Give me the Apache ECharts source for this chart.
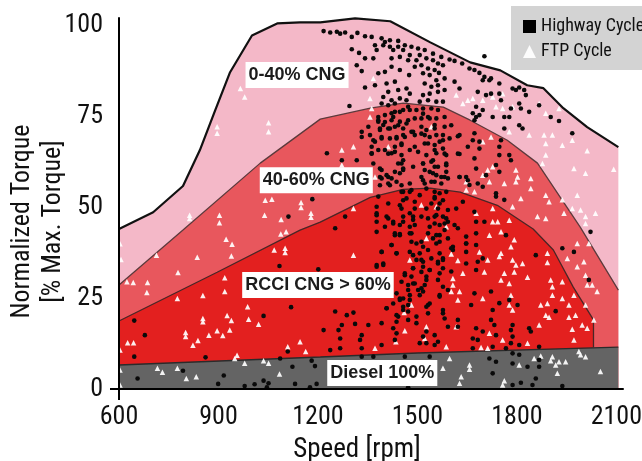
<!DOCTYPE html>
<html><head><meta charset="utf-8">
<style>html,body{margin:0;padding:0;background:#fff}#c{width:642px;height:461px}</style>
<script src="https://cdn.jsdelivr.net/npm/echarts@6/dist/echarts.min.js"></script>
</head><body><div id="c"></div>
<script>
const xTicks=[600,900,1200,1500,1800,2100];
const yTicks=[0,25,50,75,100];
const limit040=[[600,44],[703,48.6],[793,55.8],[844,65.7],[890,76.6],[935,87.1],[1001,97.2],[1077,100.5],[1146,100.8],[1207,100.8],[1312,101.9],[1418,101.1],[1539,95.3],[1659,89.8],[1750,87.6],[1831,83.5],[1880,82.7],[1940,77.2],[2012,72],[2106,66.5]];
const limit4060=[[600,28.6],[793,43.7],[1026,62.1],[1207,74.2],[1358,77.2],[1457,78.6],[1578,77.5],[1659,73.9],[1771,68.4],[1862,62.1],[1931,52.7],[1991,44.5],[2106,27.2]];
const limitRcci=[[600,18.7],[896,32.1],[1146,43.7],[1207,45.9],[1358,52.7],[1457,54.9],[1539,55.2],[1629,54.1],[1741,50.5],[1849,44],[1910,38.2],[1970,28],[2031,19],[2031,11.5]];
const limitDiesel=[[600,6.6],[1207,8.8],[1500,9.9],[2106,11.5]];
const regionLabels=[[1137,86.3,'0-40% CNG'],[1195,57.4,'40-60% CNG'],[1200,28.6,'RCCI CNG > 60%'],[1394,4.4,'Diesel 100%']];
const highway=[[1217,98.4],[1237,98],[1257,98.2],[1267,97.7],[1282,98],[1302,96.8],[1319,97.9],[1342,97],[1362,96.8],[1392,96.4],[1402,95.4],[1417,95.9],[1442,95.7],[1462,94.5],[1482,94.1],[1502,93.6],[1522,93.2],[1547,92.2],[1572,91.3],[1597,90.6],[1612,90.2],[1635,89.5],[1657,88.1],[1672,87.7],[1687,86.9],[1702,85.8],[1722,85.4],[1747,84],[1787,82.6],[1807,82.9],[1822,82.2],
[1302,93.4],[1324,92.4],[1342,90.9],[1367,90.9],[1377,93.2],[1372,94.5],[1397,94.5],[1417,94.1],[1427,93.2],[1442,94.1],[1457,93.2],[1477,91.8],[1497,90.4],[1507,91.8],[1527,90.9],[1547,90.4],[1562,89.5],[1577,89],[1422,90.9],[1447,91.3],[1472,90.4],[1492,88.6],[1512,89],[1532,88.1],[1552,87.7],[1565,86.9],[1317,89],[1332,87.4],[1342,82.9],[1382,86.8],[1402,87.2],[1422,88.6],[1447,87.7],[1475,86.3],[1517,86.8],[1537,86.3],[1557,84.9],[1582,85.4],[1612,84.5],[1627,82.6],[1582,82.2],[1372,83.5],[1407,84],[1432,84.5],[1467,82.6],[1412,81.7],[1442,82.2],[1477,81.2],[1522,84],[1542,83.1],[1562,83.5],[1517,80.8],[1537,81.2],[1562,81.7],[1397,80.3],[1422,79.4],[1447,79.9],[1467,79.4],[1507,79],[1532,79.4],[1557,79],[1577,79],[1392,78.5],[1412,78],[1432,78.5],[1295,77.8],
[1697,84.9],[1717,84.9],[1682,81.7],[1707,80.8],[1722,81.2],[1747,81.2],[1752,79.4],[1797,82.2],[1827,80.8],[1807,78.5],[1782,77.1],[1812,77.1],[1677,77.6],[1697,76.7],[1667,75.8],[1687,75.3],[1727,74.8],[1762,74.8],[1777,74.8],[1837,76.2],[1867,78],[1902,74.8],[1927,73.7],[1967,70.3],[1807,72.5],[1762,71.6],[1817,71.6],[1677,74.8],[1672,73.9],[1702,91.5],
[1382,74.8],[1402,75.3],[1422,75.8],[1447,76.2],[1472,77.6],[1497,76.7],[1517,77.1],[1542,77.1],[1562,76.7],[1382,73.5],[1397,72.6],[1422,73.9],[1447,73.5],[1472,73.9],[1512,74.4],[1532,74.8],[1557,74.4],[1582,74.8],[1332,70.7],[1352,72.1],[1387,71.6],[1412,71.6],[1432,72.1],[1457,71.6],[1482,70.7],[1512,72.1],[1527,71.2],[1552,72.6],[1582,72.1],[1332,69.3],[1367,68.4],[1392,69.3],[1417,68.9],[1437,68.9],[1462,69.3],[1492,69.8],[1522,69.8],[1557,69.8],[1577,68.4],[1622,69.5],[1672,70.3],[1362,66.6],[1402,65.7],[1432,66.6],[1452,67.1],[1492,66.6],[1522,67.5],[1552,67.1],[1577,66.1],[1667,68.4],[1687,68],[1652,66.6],[1362,64.8],[1422,64.8],[1452,64.3],[1527,64.3],[1557,64.8],[1587,64.3],[1627,64.6],[1687,66.1],[1752,68.4],[1747,66.6],[1227,64.8],[1272,62.9],[1317,62.9],[1367,62],[1392,60.2],[1452,62],[1517,62],[1547,62.9],[1587,62],[1672,63.4],[1677,60.6],[1777,64.3],[1747,64.3],[1737,61.6],[1387,58.3],[1412,58.3],[1457,60.6],[1522,60.2],[1552,61.1],[1587,59.7],[1627,58.3],[1647,58.3],[1412,56.5],[1447,59.3],[1547,59.3],[1572,58.3],[1517,57.4],[1552,57],[1707,58.8],[1747,59.7],[1782,62.9],[1682,56.5],[1737,53.8],[1737,52.9],[1762,52],[1657,56.1],[1697,55.6],
[1382,52.9],[1457,54.2],[1482,54.7],[1527,55.1],[1552,54.2],[1587,54.2],[1637,51.5],[1377,50.1],[1412,51],[1457,51.9],[1492,51.5],[1552,52.4],[1577,51.9],[1617,49.6],[1377,47.8],[1407,47.4],[1452,49.6],[1492,49.6],[1527,49.6],[1562,49.6],[1592,49.2],[1672,48.7],[1427,46],[1457,47.4],[1487,47.4],[1552,47.4],[1587,46.9],[1677,46],[1702,46],[1282,47.4],[1252,44.2],[1447,45.1],[1477,44.6],[1552,45.5],[1582,45.5],[1622,44.2],
[1432,42.3],[1447,42.6],[1482,42.8],[1532,42.8],[1567,42.3],[1592,41.4],[1647,41.9],[1677,42.8],[1767,42.3],[1422,39.6],[1482,40.5],[1512,40.5],[1557,40],[1607,39.1],[1647,40],[1677,39.6],[1392,37.7],[1437,37.3],[1507,37.3],[1532,38.2],[1577,35.9],[1607,38.2],[1647,37.7],[1682,35],[1697,35.9],[1857,36.8],[1937,38.7],[1972,37.7],[1397,34.5],[1377,34.1],[1497,35.5],[1517,35],[1562,34.5],[1647,34.5],[1677,32.7],[1577,33.2],[1487,33.2],[1512,32.2],[1537,32.7],[1462,31.3],[1567,31.8],[1452,29.5],[1487,29],[1527,30],[1562,30],[1672,26.3],[1512,27.7],[1577,28.1],[1592,27.2],[1472,27.2],[1507,25.8],[1447,24.9],[1567,25.8],[1662,23.1],[1722,26.8],[1747,23.6],[1777,24.5],[1802,23.1],[1407,22.2],[1457,22.6],[1532,23.1],[1477,24.5],[1457,21.7],[1252,21.3],[1307,21],[1287,20.3],[1577,20.8],[1442,19.9],[1472,19],[1497,18.1],[1582,19.4],[1622,19],[1727,21.7],[1722,19],[1437,18.5],[1272,17.6],[1312,17.9],[1352,17.6],[1392,18.1],[1622,17.1],[1732,17.6],[1677,16.7],[1787,17.6],[1837,16.7],[1217,16.2],[1262,16.2],[1427,16.7],[1527,15.8],[1592,17.1],[1697,15.8],[1782,16.2],[1842,15.8],[1332,14.8],[1437,15.3],[1552,14.8],[1737,14.8],[1787,14.4],[1267,13.9],[1327,13.5],[1432,13.5],[1517,14.4],[1667,13.9],[1682,13.5],[1782,12.6],[1527,12.6],[1562,13],[1237,10.7],[1267,11.2],[1332,11.2],[1392,12.1],[1552,12.1],[1507,12.6],[1667,11.2],[1727,11.6],[1767,11.2],[1867,11.6],[1807,12.1],[1717,8.4],[1737,7.5],[1787,9.8],[1807,9.4],[1787,7],[1832,6.1],[1867,8],[1727,4.3],[1857,2.9],[1812,1.7],[1787,1.1],[1937,0.8],[1867,6.1],[1847,1.1],[1472,0.5],[1462,8.9],[1537,8.9],[1332,8.9],[1367,8.9],[1917,21.4],[2017,30],[2022,43.2],
[646,18.8],[678,14.8],[646,8.9],[861,8.7],[1036,20.1],[1119,22.5],[1084,33.8],[1201,32.9],[1109,10.3],[1086,8.4],[793,5],[656,2.9],[899,1.4],[916,3.7],[979,0.8],[1009,1.3],[1036,2.3],[1051,1.6],[1046,0.5],[1123,6.1],[1131,1.4],[1181,7.8],[1191,6.3],[1176,0.5],[1196,1.4],[1111,47.4],[1183,52.2]];
const highwayDense=[[1382,73.9],[1402,73.4],[1427,74.8],[1432,76.2],[1457,76.7],[1477,76.7],[1387,71.2],[1417,71.6],[1442,72.5],[1467,73],[1492,74.4],[1517,75.7],[1537,74.4],[1552,71.6],[1577,69.8],[1597,68.9],[1357,69.8],[1372,68],[1392,68.9],[1437,69.3],[1457,69.8],[1487,70.7],[1512,70.2],[1537,69.3],[1567,68],[1382,65.7],[1362,64.7],[1412,64.7],[1432,65.2],[1452,67.5],[1477,65.7],[1502,65.2],[1532,67.5],[1552,65.7],[1582,64.7],[1442,62],[1457,62.9],[1487,61.1],[1517,62],[1542,62.5],[1562,61.1],[1587,61.5],[1387,60.6],[1407,58.8],[1432,59.7],[1457,60.2],[1512,58.3],[1537,59.7],[1557,58.8],[1582,58.3],[1392,57.9],[1422,57.9],[1437,57],[1452,56],[1477,56.5],[1542,57],[1572,56.5],[1592,57.9],[1627,58.3],[1652,57.4],[1622,64.7],[1602,72.5],[1627,69.8],[1387,56],[1417,56],[1522,56.5],[1552,52.8],[1567,53.8],[1507,53.3],[1477,54.2],[1452,54.2],[1542,51],[1567,51],[1447,50.5],[1467,52.4],
[1377,48.3],[1412,46.9],[1427,45.5],[1377,46],[1402,44.6],[1377,43.2],[1432,42.8],[1447,42.3],[1457,46],[1477,48.3],[1487,46.5],[1492,45.1],[1512,47.4],[1532,46.9],[1557,47.8],[1577,47.4],[1592,46],[1612,45.1],[1537,44.6],[1567,45.1],[1582,43.7],[1477,42.8],[1497,40],[1517,39.1],[1557,42.3],[1567,40.5],[1547,41.4],[1422,39.6],[1392,37.7],[1437,37.3],[1477,37.7],[1487,36.8],[1512,35.5],[1542,35.9],[1567,37.3],[1577,35.5],[1602,38.7],[1647,40],[1397,34.1],[1377,33.6],[1487,33.2],[1517,33.6],[1537,32.7],[1562,35],[1602,32.3],[1462,31.8],[1482,30.9],[1527,30.9],[1522,28.6],[1517,26.8],[1492,29],[1472,28.6],[1437,26.3],[1457,24.9],[1477,25.8],[1502,27.2],[1447,24.5],[1537,23.5],[1527,22.6],[1407,22.2],[1427,23.5],[1472,23.1],[1472,21.3],[1497,19.9],[1532,20.8],[1577,21.7],[1567,25.4],[1437,20.3]];
const ftp=[[966,82.6],[979,80.3],[896,72.1],[896,70.3],[1051,73.2],[1051,70.7],[813,47.8],[813,46.9],[903,47.8],[903,45.7],[1041,51.9],[1061,52.2],[1039,47.8],[1089,46.6],[1149,51.3],[1149,49.9],[1179,48.3],[1179,47.2],
[603,39.9],[606,35.6],[713,36.8],[836,36.2],[923,41.2],[941,39.8],[939,36.6],[778,32],[624,29.5],[643,29.3],[686,29.3],[684,26.5],[776,24.9],[853,25.7],[919,30.6],[919,26.8],[1088,42.6],[1104,43.2],[1068,38.2],[1101,38.7],[1101,37.5],[988,22.6],[991,19.2],[926,20.2],[939,18.8],[1021,17.8],[934,16.2],[896,16],[913,14.7],[871,14.8],[801,15.5],[801,14.4],[838,13.3],[823,12],[853,19.4],[853,18.5],[626,12.7],[644,12.7],[603,10.7],[956,9.3],[949,8.4],[1109,11.6],[1146,13],[1163,10.3],[603,5.2],[716,5.7],[731,4.6],[776,5.7],[803,2.9],[833,3.4],[979,7.1],[1036,7.8],[1051,7.1],[1084,4.1],[603,1.1],
[1367,85.4],[1357,79.9],[1362,77.1],[1357,74.8],[1542,72.1],[1307,66.6],[1272,65.7],[1272,61.6],[1412,66.6],[1372,58.3],[1617,80.8],[1667,79.9],[1652,79.4],[1697,79.4],[1727,80.3],[1757,81.2],[1637,78.5],[1737,77.6],[1757,77.1],[1787,77.6],[1837,69.8],[1777,70.7],[1722,69.3],[1697,68],[1867,78.5],[1887,75.8],[1927,77.1],[1882,69.8],[1907,69.8],[1887,67.5],[1937,67],[1967,68.4],[2012,65.5],[1887,64.3],[1877,62],[1972,60.6],[2007,59.3],[2092,60.4],[1797,60.2],[1802,58.3],[1842,57.9],[1727,61.1],[1712,60.2],[1697,58.8],[1717,57],[1762,56.5],[1797,57],[1647,57],[1842,55.1],[1812,52.4],[1887,53.3],[1897,51.5],[1937,52],[1942,48.3],[1967,49.6],[1982,53.3],[1992,49.2],[2037,48.3],[2007,47.4],[2007,45.5],[1672,54.2],[1512,50.6],[1647,54.7],[1787,50.1],[1677,48.3],[1727,49.6],[1727,46],[1742,46],[1777,46.4],[1862,47.4],[1887,46.9],[1557,50.1],[1587,44.6],[1307,49.6],
[1307,36.8],[1527,41.4],[1602,37.1],[1622,35.3],[1477,35.5],[1752,37.3],[1782,39.1],[1792,41],[1717,42.3],[1752,43.2],[1687,37.7],[1712,35.5],[1747,36.4],[1787,35.5],[1797,34.1],[1637,31.8],[1702,32.2],[1762,31.8],[1792,32.2],[1832,30.7],[1607,30.4],[1607,28.6],[1602,26.8],[1627,26.8],[1622,24.5],[1697,24.9],[1752,30],[1777,29],[1782,25.8],[1777,23.1],[1787,21.7],[1460,21],[1482,23.1],[1892,37.3],[1892,34.8],[1817,34.5],[1902,30],[1907,28.1],[1907,25.8],[1937,29.5],[1972,25.8],[1937,24.9],[1892,23.5],[1872,23.1],[1957,23.1],[1887,20.3],[1897,19.7],[1957,19.7],[1977,20.3],[1997,17.6],[2012,16.7],[1967,16.4],[1972,13.5],[1867,17.6],[1832,12.6],[1757,13.5],[1717,15.3],[1617,17.1],[1527,17.1],[1462,16],[1522,13.9],[1435,13],[1372,11.2],[1587,11.6],[1692,11.4],[1712,11.2],[1982,40],[1952,35.9],[1982,33.6],[2002,35],[2007,31.3],[2012,28.6],[2027,28.6],[2042,26.8],[2007,23.1],[2032,19],[2017,40],
[1597,8.4],[1577,5.7],[1657,6.6],[1657,5.4],[1632,3.4],[1627,1.6],[1762,2.3],[1807,6.6],[1852,8.4],[1872,9.1],[1907,8.9],[1902,7.8],[1917,6.6],[1927,7.5],[1947,7.5],[1922,4.3],[1987,10.3],[1992,9.4],[2007,8.9],[2052,4.8],[1757,1.1]];

const narrow='"Roboto Condensed","Roboto",sans-serif';
function region(name,data,fill,line,width){
  return {name,type:'line',data,showSymbol:false,silent:true,z:2,
    lineStyle:{color:line,width},itemStyle:{color:line},
    areaStyle:{color:fill,opacity:1,origin:'start'}};
}
const chart=echarts.init(document.getElementById('c'),null,{renderer:'canvas'});
chart.setOption({
  animation:false,
  grid:{left:119,top:18,width:504,height:371,outerBoundsMode:'none'},
  legend:{left:511,top:6,orient:'vertical',padding:[11,40,9,12],itemGap:6,backgroundColor:'#d3d3d3',
    itemWidth:13,itemHeight:13,selectedMode:false,
    textStyle:{fontFamily:narrow,fontSize:18,color:'#111',lineHeight:19},
    data:[{name:'Highway Cycle',icon:'rect',itemStyle:{color:'#000'}},{name:'FTP Cycle',icon:'triangle',itemStyle:{color:'#fff'}}]},
  xAxis:{type:'value',min:600,max:2120,interval:300,z:6,
    name:'Speed [rpm]',nameLocation:'middle',nameGap:48,nameMoveOverlap:false,nameTextStyle:{fontFamily:narrow,fontSize:27,color:'#111',padding:[0,28,0,0]},
    axisLine:{show:true,onZero:false,lineStyle:{color:'#000',width:2}},
    axisTick:{show:true,customValues:[600],length:11,lineStyle:{color:'#000',width:2}},
    axisLabel:{show:true,customValues:xTicks,formatter:v=>String(v),margin:15,fontFamily:narrow,fontSize:26,color:'#111'},
    splitLine:{show:true,lineStyle:{color:'rgba(235,200,170,0.22)',type:'dashed',width:1}}},
  yAxis:{type:'value',min:0,max:102,interval:25,z:6,
    name:'Normalized Torque\n[% Max. Torque]',nameLocation:'middle',nameGap:50,nameMoveOverlap:false,nameTextStyle:{fontFamily:narrow,fontSize:26,color:'#111',lineHeight:31,padding:[0,36,0,0]},
    axisLine:{show:true,onZero:false,lineStyle:{color:'#000',width:2}},
    axisTick:{show:true,customValues:[0],length:9,lineStyle:{color:'#000',width:2}},
    axisLabel:{show:true,customValues:yTicks,formatter:v=>String(v),margin:16,padding:[5,0,0,0],fontFamily:narrow,fontSize:26,color:'#111'},
    splitLine:{show:true,lineStyle:{color:'rgba(235,200,170,0.22)',type:'dashed',width:1}}},
  series:[
    region('0-40% CNG',limit040,'#f4b8c8','#111',2.2),
    region('40-60% CNG',limit4060,'#e8575d','#5c3a3c',1.3),
    region('RCCI CNG > 60%',limitRcci,'#e3201f','#4a2626',1.3),
    region('Diesel 100%',limitDiesel,'#646464','#2b2b2b',1.3),
    {name:'FTP Cycle',type:'scatter',z:4,data:ftp,symbol:'triangle',symbolSize:5.5,silent:true,itemStyle:{color:'#fff',opacity:.92}},
    {name:'Highway Cycle',type:'scatter',z:5,data:highway.concat(highwayDense),symbol:'circle',symbolSize:4.6,silent:true,itemStyle:{color:'#0a0a0a',opacity:1}},
    {type:'scatter',silent:true,symbolSize:0,z:10,itemStyle:{opacity:1},data:regionLabels.map(d=>({value:[d[0],d[1]],labelText:d[2]})),
      label:{show:true,position:'inside',formatter:p=>p.data.labelText,fontFamily:'"Liberation Sans",sans-serif',fontWeight:'bold',fontSize:18,color:'#1c1c1c',
        backgroundColor:'#fff',padding:[4,3,4,3]}}
  ]
});
</script></body></html>
